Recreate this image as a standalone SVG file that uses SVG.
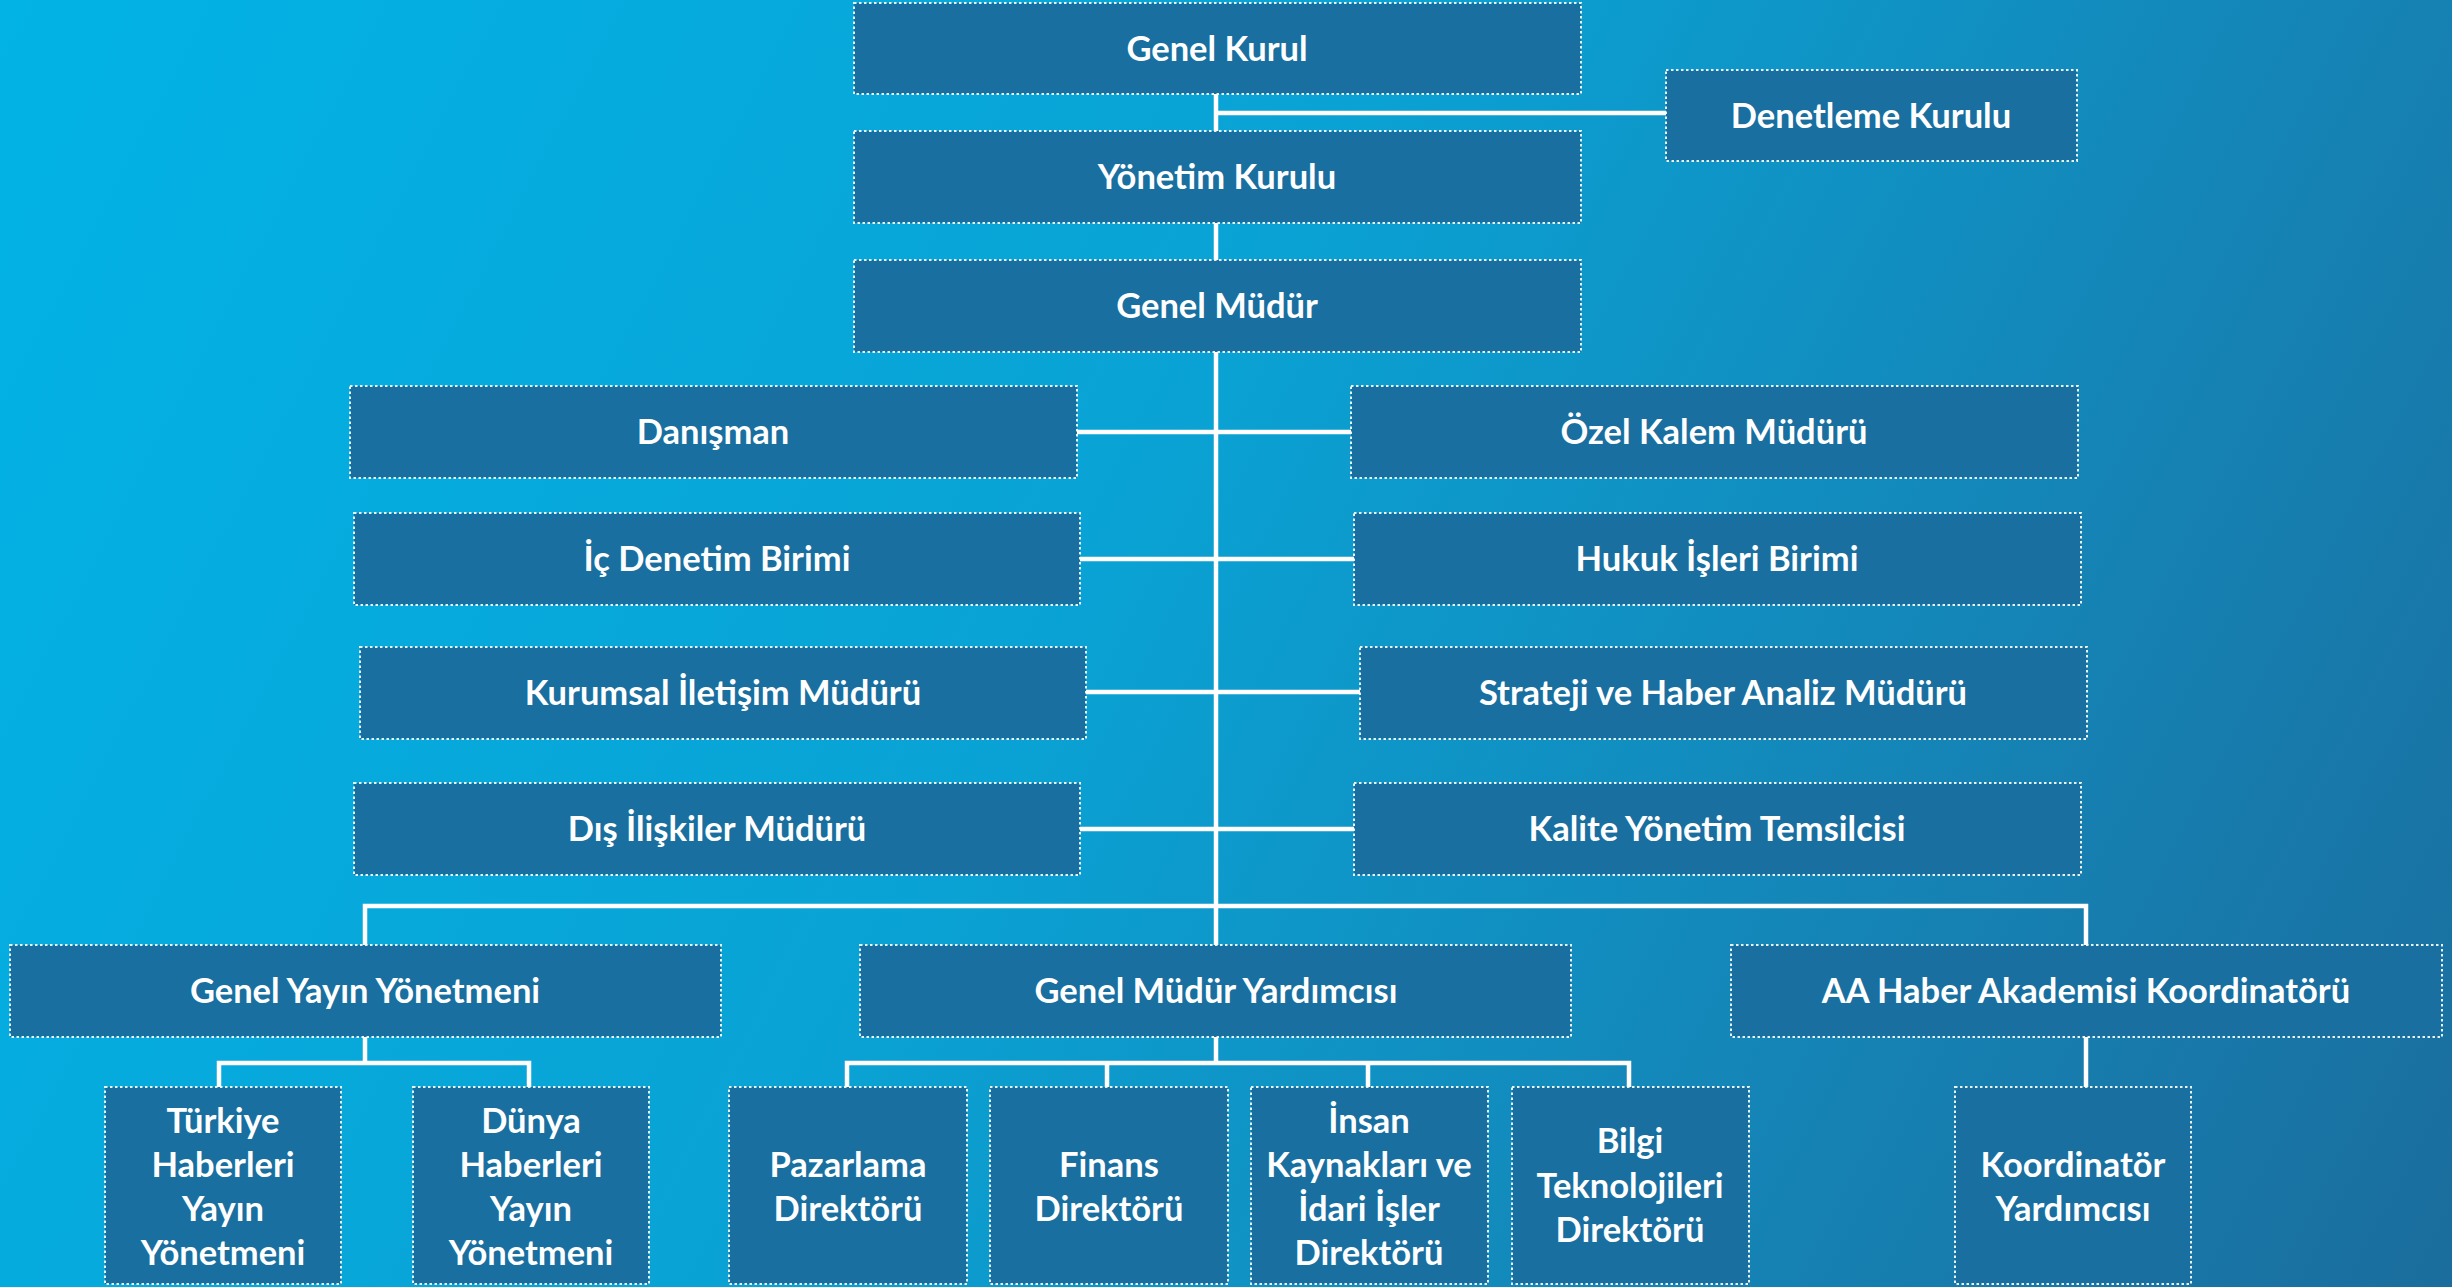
<svg xmlns="http://www.w3.org/2000/svg" width="2452" height="1287" viewBox="0 0 2452 1287">
<defs>
<linearGradient id="bg" gradientUnits="userSpaceOnUse" x1="0" y1="0" x2="2452" y2="1287">
<stop offset="0" stop-color="#02b3e6"/>
<stop offset="0.45" stop-color="#0aa2d4"/>
<stop offset="0.75" stop-color="#1584b6"/>
<stop offset="1" stop-color="#1a6d9d"/>
</linearGradient>
<style>
.box{fill:#196f9f;stroke:#ffffff;stroke-width:2;stroke-dasharray:2.5 2.5;stroke-opacity:0.9}
.t{font-family:Lato,"Open Sans","Liberation Sans",sans-serif;font-weight:700;font-size:34.5px;fill:#ffffff;text-anchor:middle}
.c{fill:none;stroke:#ffffff;stroke-width:4.5}
</style>
</defs>
<rect width="2452" height="1287" fill="url(#bg)"/>
<g id="connectors">
<path class="c" d="M1216 94V945"/>
<path class="c" d="M1216 113H1666"/>
<path class="c" d="M1077 432H1351"/>
<path class="c" d="M1080 559H1354"/>
<path class="c" d="M1086 692H1360"/>
<path class="c" d="M1080 829H1354"/>
<path class="c" d="M365 945V906H2086V945"/>
<path class="c" d="M365 1037V1063M219 1087V1063H529V1087"/>
<path class="c" d="M1216 1037V1063M847 1087V1063H1629V1087M1107 1063V1087M1368 1063V1087"/>
<path class="c" d="M2086 1037V1087"/>
</g>
<g id="genel-kurul"><rect class="box" x="854" y="3" width="727" height="91"/><text class="t" x="1217" y="61">Genel Kurul</text></g>
<g id="denetleme-kurulu"><rect class="box" x="1666" y="70" width="411" height="91"/><text class="t" x="1871" y="128">Denetleme Kurulu</text></g>
<g id="yonetim-kurulu"><rect class="box" x="854" y="131" width="727" height="92"/><text class="t" x="1217" y="189">Yönetim Kurulu</text></g>
<g id="genel-mudur"><rect class="box" x="854" y="260" width="727" height="92"/><text class="t" x="1217" y="318">Genel Müdür</text></g>
<g id="danisman"><rect class="box" x="350" y="386" width="727" height="92"/><text class="t" x="713" y="444">Danışman</text></g>
<g id="ozel-kalem"><rect class="box" x="1351" y="386" width="727" height="92"/><text class="t" x="1714" y="444">Özel Kalem Müdürü</text></g>
<g id="ic-denetim"><rect class="box" x="354" y="513" width="726" height="92"/><text class="t" x="717" y="571">İç Denetim Birimi</text></g>
<g id="hukuk"><rect class="box" x="1354" y="513" width="727" height="92"/><text class="t" x="1717" y="571">Hukuk İşleri Birimi</text></g>
<g id="kurumsal"><rect class="box" x="360" y="647" width="726" height="92"/><text class="t" x="723" y="705">Kurumsal İletişim Müdürü</text></g>
<g id="strateji"><rect class="box" x="1360" y="647" width="727" height="92"/><text class="t" x="1723" y="705">Strateji ve Haber Analiz Müdürü</text></g>
<g id="dis-iliskiler"><rect class="box" x="354" y="783" width="726" height="92"/><text class="t" x="717" y="841">Dış İlişkiler Müdürü</text></g>
<g id="kalite"><rect class="box" x="1354" y="783" width="727" height="92"/><text class="t" x="1717" y="841">Kalite Yönetim Temsilcisi</text></g>
<g id="genel-yayin"><rect class="box" x="10" y="945" width="711" height="92"/><text class="t" x="365" y="1003">Genel Yayın Yönetmeni</text></g>
<g id="gmy"><rect class="box" x="860" y="945" width="711" height="92"/><text class="t" x="1216" y="1003">Genel Müdür Yardımcısı</text></g>
<g id="aa-akademi"><rect class="box" x="1731" y="945" width="711" height="92"/><text class="t" x="2086" y="1003">AA Haber Akademisi Koordinatörü</text></g>
<g id="turkiye"><rect class="box" x="105" y="1087" width="236" height="197"/><text class="t" x="223" y="1133">Türkiye<tspan x="223" y="1177">Haberleri</tspan><tspan x="223" y="1221">Yayın</tspan><tspan x="223" y="1265">Yönetmeni</tspan></text></g>
<g id="dunya"><rect class="box" x="413" y="1087" width="236" height="197"/><text class="t" x="531" y="1133">Dünya<tspan x="531" y="1177">Haberleri</tspan><tspan x="531" y="1221">Yayın</tspan><tspan x="531" y="1265">Yönetmeni</tspan></text></g>
<g id="pazarlama"><rect class="box" x="729" y="1087" width="238" height="197"/><text class="t" x="848" y="1177">Pazarlama<tspan x="848" y="1221">Direktörü</tspan></text></g>
<g id="finans"><rect class="box" x="990" y="1087" width="238" height="197"/><text class="t" x="1109" y="1177">Finans<tspan x="1109" y="1221">Direktörü</tspan></text></g>
<g id="insan"><rect class="box" x="1251" y="1087" width="237" height="197"/><text class="t" x="1369" y="1133">İnsan<tspan x="1369" y="1177">Kaynakları ve</tspan><tspan x="1369" y="1221">İdari İşler</tspan><tspan x="1369" y="1265">Direktörü</tspan></text></g>
<g id="bilgi"><rect class="box" x="1512" y="1087" width="237" height="197"/><text class="t" x="1630" y="1153">Bilgi<tspan x="1630" y="1198">Teknolojileri</tspan><tspan x="1630" y="1242">Direktörü</tspan></text></g>
<g id="koordinator-yrd"><rect class="box" x="1955" y="1087" width="236" height="197"/><text class="t" x="2073" y="1177">Koordinatör<tspan x="2073" y="1221">Yardımcısı</tspan></text></g>
</svg>
